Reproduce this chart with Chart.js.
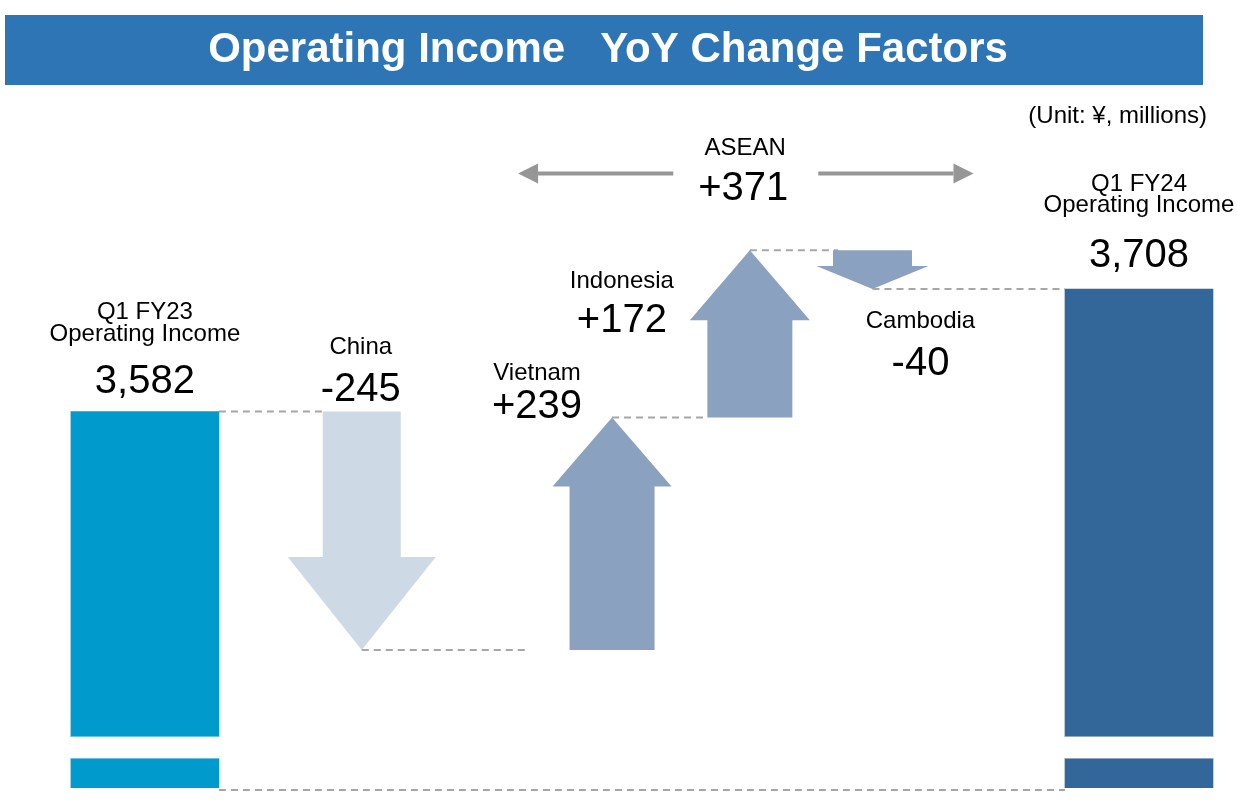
<!DOCTYPE html>
<html>
<head>
<meta charset="utf-8">
<title>Operating Income YoY Change Factors</title>
<script src="https://cdn.jsdelivr.net/npm/chart.js@4.4.1/dist/chart.umd.min.js"></script>
<style>
  html, body { margin: 0; padding: 0; background: #ffffff; }
  #wrap { width: 1237px; height: 801px; }
  canvas { display: block; }
</style>
</head>
<body>
<div id="wrap"><canvas id="c" width="1237" height="801"></canvas></div>
<script>
// ---------------- DATA ----------------
const titleText = 'Operating Income   YoY Change Factors';
const unitLabel = '(Unit: \u00a5, millions)';
const totalLabels = [['Q1 FY23', 'Operating Income'], ['Q1 FY24', 'Operating Income']];
const totalValues = [3582, 3708];
const factorNames = ['China', 'Vietnam', 'Indonesia', 'Cambodia'];
const factorValues = [-245, 239, 172, -40];
const groupName = 'ASEAN';
const groupValue = 371;

// ---------------- LAYOUT / STYLE ----------------
const slotX = [1.43, 3.57, 6.04, 7.40, 8.61, 11.24];   // positions on the layout axis (0..12)
const totalColors = ['#009ACD', '#336699'];
const barWidth = 148;
const arrowStyles = [
  { shaft: 78, head: 148, len: 93, color: '#CDDAE6' },
  { shaft: 85, head: 119, len: 69, color: '#8BA1C0' },
  { shaft: 85, head: 120, len: 70, color: '#8BA1C0' },
  { shaft: 79, head: 112, len: 23, color: '#8BA1C0' }
];
// label offsets relative to (arrow centre x, pixel of the upper end of the arrow)
const factorLabelOffsets = [
  { dx: -1,   name: -58, num: -11 },
  { dx: -75,  name: -37, num: 1 },
  { dx: -128, name: 38,  num: 82 },
  { dx: 48,   name: 78,  num: 125 }
];
// label offsets relative to (bar centre x, bar top pixel)
const totalLabelOffsets = [
  { l1: -93, l2: -71, num: -19 },
  { l1: -98, l2: -77, num: -22 }
];
const connectorTrim = [0, 42, 0, -5, 0];
const FONT = '"Liberation Sans", Arial, Helvetica, sans-serif';

function fmtTotal(v) { return v.toLocaleString('en-US'); }
function fmtDelta(v) { return (v > 0 ? '+' : '') + v.toLocaleString('en-US'); }

function drawArrow(ctx, cx, yFrom, yTo, s) {
  const dir = yTo > yFrom ? 1 : -1;
  const headBase = yTo - dir * s.len;
  ctx.save();
  ctx.fillStyle = s.color;
  ctx.beginPath();
  ctx.moveTo(cx - s.shaft / 2, yFrom);
  ctx.lineTo(cx + s.shaft / 2, yFrom);
  ctx.lineTo(cx + s.shaft / 2, headBase);
  ctx.lineTo(cx + s.head / 2, headBase);
  ctx.lineTo(cx, yTo);
  ctx.lineTo(cx - s.head / 2, headBase);
  ctx.lineTo(cx - s.shaft / 2, headBase);
  ctx.closePath();
  ctx.fill();
  ctx.restore();
}

function dashed(ctx, x1, y1, x2, y2) {
  ctx.save();
  ctx.strokeStyle = '#A6A6A6';
  ctx.lineWidth = 2;
  ctx.setLineDash([7, 5]);
  ctx.beginPath();
  ctx.moveTo(x1, y1);
  ctx.lineTo(x2, y2);
  ctx.stroke();
  ctx.restore();
}

function grayArrow(ctx, xFrom, xTip, y) {
  const dir = xTip > xFrom ? 1 : -1;
  const headLen = 20, headHalf = 10;
  ctx.save();
  ctx.strokeStyle = '#969696';
  ctx.fillStyle = '#969696';
  ctx.lineWidth = 4;
  ctx.beginPath();
  ctx.moveTo(xFrom, y);
  ctx.lineTo(xTip - dir * headLen, y);
  ctx.stroke();
  ctx.beginPath();
  ctx.moveTo(xTip, y);
  ctx.lineTo(xTip - dir * headLen, y - headHalf);
  ctx.lineTo(xTip - dir * headLen, y + headHalf);
  ctx.closePath();
  ctx.fill();
  ctx.restore();
}

function text(ctx, str, x, y, size, align) {
  ctx.save();
  ctx.fillStyle = '#000000';
  ctx.font = size + 'px ' + FONT;
  ctx.textAlign = align || 'center';
  ctx.textBaseline = 'alphabetic';
  ctx.fillText(str, x, y);
  ctx.restore();
}

const waterfallPlugin = {
  id: 'waterfall',
  beforeDraw(chart) {
    const ctx = chart.ctx;
    ctx.save();
    ctx.fillStyle = '#ffffff';
    ctx.fillRect(0, 0, chart.width, chart.height);
    ctx.fillStyle = '#2E75B6';
    ctx.fillRect(5, 15, 1198, 70);
    ctx.restore();
  },
  afterDatasetsDraw(chart) {
    const ctx = chart.ctx;
    const xs = chart.scales.x, ys = chart.scales.y;
    const area = chart.chartArea;
    const half = barWidth / 2;

    // axis break across the two total bars
    ctx.save();
    [0, 5].forEach((slot, k) => {
      const bx = xs.getPixelForValue(slotX[slot]) - half;
      ctx.fillStyle = '#ffffff';
      ctx.fillRect(bx - 1, 737, barWidth + 2, 21);
      ctx.fillStyle = k === 0 ? '#6CC4E2' : '#8FA8C6';
      ctx.fillRect(bx, 736, barWidth, 1);
      ctx.fillRect(bx, 758, barWidth, 1);
    });
    ctx.restore();

    // arrows + connectors
    let level = totalValues[0];
    let prevX = xs.getPixelForValue(slotX[0]) + half;
    factorValues.forEach((v, i) => {
      const from = level, to = level + v;
      const cx = xs.getPixelForValue(slotX[i + 1]);
      const s = arrowStyles[i];
      const yFrom = ys.getPixelForValue(from);
      const yTo = ys.getPixelForValue(to);
      dashed(ctx, prevX, yFrom, cx - s.shaft / 2 - connectorTrim[i], yFrom);
      drawArrow(ctx, cx, yFrom, yTo, s);
      prevX = cx;
      // labels
      const o = factorLabelOffsets[i];
      const top = Math.min(yFrom, yTo);
      text(ctx, factorNames[i], cx + o.dx, top + o.name, 24);
      text(ctx, fmtDelta(v), cx + o.dx, top + o.num, 40);
      level = to;
    });
    const endLeft = xs.getPixelForValue(slotX[5]) - half;
    dashed(ctx, prevX, ys.getPixelForValue(level), endLeft - connectorTrim[4], ys.getPixelForValue(level));
    // baseline connector
    dashed(ctx, xs.getPixelForValue(slotX[0]) + half, area.bottom + 2, endLeft, area.bottom + 2);

    // total labels
    [0, 5].forEach((slot, k) => {
      const cx = xs.getPixelForValue(slotX[slot]);
      const top = ys.getPixelForValue(totalValues[k]);
      const o = totalLabelOffsets[k];
      text(ctx, totalLabels[k][0], cx, top + o.l1, 24);
      text(ctx, totalLabels[k][1], cx, top + o.l2, 24);
      text(ctx, fmtTotal(totalValues[k]), cx, top + o.num, 40);
    });

    // ASEAN group bracket (Vietnam .. Cambodia)
    const gL = xs.getPixelForValue(slotX[2]);
    const gR = xs.getPixelForValue(slotX[4]);
    const gc = (gL + gR) / 2 + 3;
    const gy = area.top + 73;
    grayArrow(ctx, gc - 72, gL - 94, gy);
    grayArrow(ctx, gc + 73, gR + 101, gy);
    text(ctx, groupName, gc, area.top + 55, 24);
    text(ctx, fmtDelta(groupValue), gc - 2, area.top + 100, 40);

    // unit
    text(ctx, unitLabel, 1207, 123, 24, 'right');
  }
};

new Chart(document.getElementById('c'), {
  type: 'bar',
  data: {
    datasets: [{
      label: 'Operating Income',
      data: totalValues.map((v, k) => ({ x: slotX[k === 0 ? 0 : 5], y: v })),
      backgroundColor: totalColors,
      borderWidth: 0,
      barThickness: barWidth
    }]
  },
  options: {
    responsive: false,
    animation: false,
    events: [],
    layout: { padding: { left: 0, right: 21, top: 0, bottom: 13 } },
    scales: {
      x: { type: 'linear', min: 0, max: 12, offset: false, display: false },
      y: { type: 'linear', min: 3195, max: 3902, display: false }
    },
    plugins: {
      legend: { display: false },
      tooltip: { enabled: false },
      title: {
        display: true,
        text: titleText,
        color: '#ffffff',
        font: { family: FONT, size: 42, weight: 'bold', lineHeight: 1.2 },
        padding: { top: 25, bottom: 25 }
      }
    }
  },
  plugins: [waterfallPlugin]
});
</script>
</body>
</html>
